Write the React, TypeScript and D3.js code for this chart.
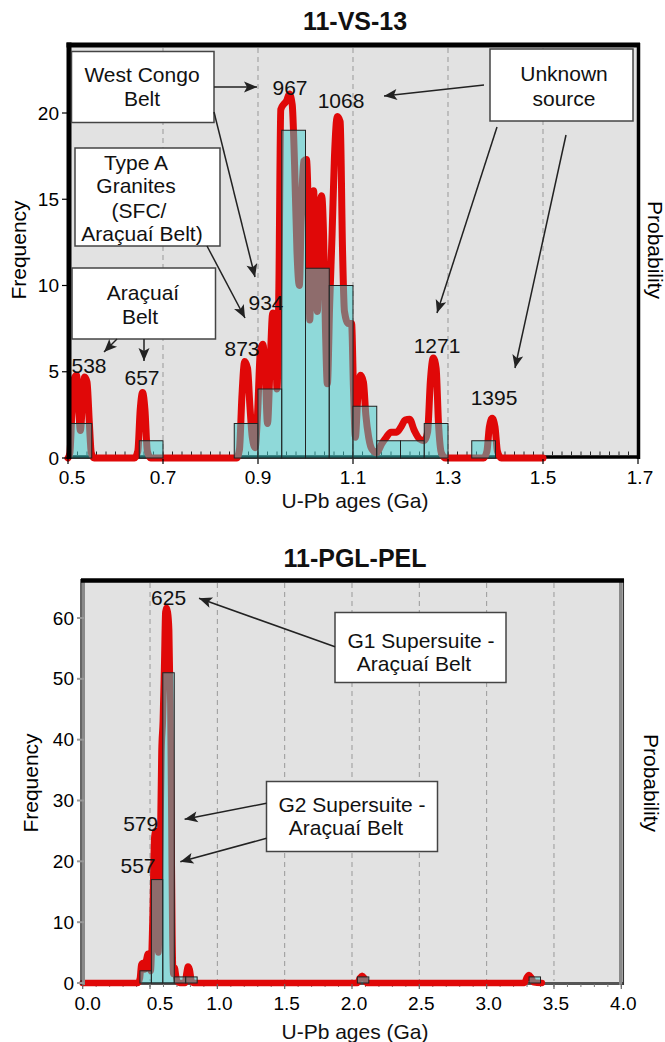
import React from 'react';
import * as d3 from 'd3';

// ---- 11-VS-13 ----
const vs13BinWidth = 0.05;
const vs13BinStart = [0.5, 0.65, 0.85, 0.9, 0.95, 1.0, 1.05, 1.1, 1.15, 1.2, 1.25, 1.35];
const vs13Counts = [2, 1, 2, 4, 19, 11, 10, 3, 1, 1, 2, 1];
// relative probability curve, scaled to frequency [age Ga, value]
const vs13Curve: [number, number][] = [
  [0.5, 0], [0.504, 0.3], [0.508, 2.5], [0.513, 4.6], [0.518, 4.8], [0.522, 3.2], [0.526, 1.6], [0.53, 3.0],
  [0.535, 4.7], [0.54, 4.4], [0.545, 2.0], [0.549, 0.3], [0.555, 0],
  [0.64, 0], [0.647, 0.4], [0.652, 2.8], [0.657, 3.8], [0.662, 2.8], [0.667, 0.4], [0.674, 0],
  [0.855, 0], [0.861, 0.5], [0.866, 3.5], [0.872, 5.6], [0.878, 5.2], [0.883, 3.0], [0.888, 1.2], [0.894, 0.6],
  [0.899, 2.5], [0.905, 6.2], [0.91, 6.6], [0.915, 5.2], [0.92, 2.0], [0.925, 5.0], [0.931, 8.4], [0.936, 8.2],
  [0.94, 4.0], [0.944, 10.0], [0.948, 20.2], [0.954, 20.5], [0.96, 20.7], [0.966, 21.1], [0.972, 20.5],
  [0.977, 17.0], [0.982, 12.0], [0.987, 10.0], [0.991, 14.0], [0.996, 17.2], [1.002, 17.3], [1.006, 14.0],
  [1.009, 8.0], [1.013, 13.5], [1.017, 15.5], [1.021, 12.0], [1.025, 8.5], [1.029, 13.5], [1.034, 15.2],
  [1.038, 13.0], [1.042, 7.5], [1.046, 4.3], [1.051, 9.0], [1.056, 13.0], [1.061, 17.5], [1.067, 19.8],
  [1.073, 19.5], [1.078, 12.0], [1.082, 8.5], [1.09, 7.8], [1.097, 7.8], [1.101, 4.0], [1.105, 1.2],
  [1.11, 3.5], [1.116, 4.8], [1.122, 4.4], [1.127, 2.5], [1.133, 1.2], [1.14, 0.5], [1.15, 0.3], [1.16, 0.8],
  [1.17, 1.2], [1.18, 1.5], [1.192, 1.5], [1.201, 1.8], [1.21, 2.2], [1.219, 2.25], [1.229, 1.6], [1.24, 1.1],
  [1.25, 1.0], [1.257, 1.5], [1.263, 4.5], [1.269, 5.8], [1.275, 5.2], [1.28, 2.0], [1.286, 0.3], [1.295, 0],
  [1.375, 0], [1.382, 0.4], [1.387, 1.8], [1.393, 2.3], [1.399, 1.8], [1.404, 0.4], [1.412, 0], [1.5, 0],
];
const vs13XTicks = [0.5, 0.7, 0.9, 1.1, 1.3, 1.5, 1.7];
const vs13YTicks = [0, 5, 10, 15, 20];

// ---- 11-PGL-PEL ----
const pelBinWidth = 0.085;
const pelBinStart = [0.425, 0.51, 0.595, 0.68, 0.765, 2.04, 3.315];
const pelCounts = [2, 17, 51, 1, 1, 1, 1];
const pelCurve: [number, number][] = [
  [0, 0], [0.41, 0], [0.425, 0.8], [0.435, 3.0], [0.447, 3.3], [0.46, 2.2], [0.472, 3.8], [0.485, 4.8],
  [0.497, 3.5], [0.505, 2.0], [0.518, 10], [0.532, 24], [0.542, 25], [0.552, 10], [0.562, 5], [0.575, 22],
  [0.585, 38], [0.595, 43], [0.605, 52], [0.614, 61], [0.622, 61.7], [0.632, 61], [0.642, 58], [0.651, 46],
  [0.659, 26], [0.666, 8], [0.673, 1.5], [0.683, 2.5], [0.693, 1.2], [0.705, 0.2], [0.72, 0],
  [0.76, 0], [0.77, 1.5], [0.782, 2.7], [0.795, 2.2], [0.808, 0.4], [0.825, 0],
  [2.04, 0], [2.058, 0.8], [2.075, 1.2], [2.092, 0.8], [2.11, 0],
  [3.28, 0], [3.298, 0.9], [3.315, 1.3], [3.332, 0.9], [3.35, 0.1], [3.41, 0],
];
const pelXTicks = [0, 0.5, 1.0, 1.5, 2.0, 2.5, 3.0, 3.5, 4.0];
const pelYTicks = [0, 10, 20, 30, 40, 50, 60];

const FONT = '"Liberation Sans", Arial, Helvetica, sans-serif';
const RED = '#e00808';
const BAR = 'rgba(59,207,207,0.5)';

function Arrow({ x1, y1, x2, y2 }: { x1: number; y1: number; x2: number; y2: number }) {
  return <line x1={x1} y1={y1} x2={x2} y2={y2} stroke="#222" strokeWidth={1.5} markerEnd="url(#ah)" />;
}

function Box({ x, y, w, h }: { x: number; y: number; w: number; h: number }) {
  return <rect x={x} y={y} width={w} height={h} fill="#fff" stroke="#444" strokeWidth={1.5} />;
}

function T({ x, y, s, size = 21, bold = false }: { x: number; y: number; s: string; size?: number; bold?: boolean }) {
  return (
    <text x={x} y={y} fontSize={size} fontWeight={bold ? 'bold' : 'normal'} textAnchor="middle"
      dominantBaseline="central" fill="#111">
      {s}
    </text>
  );
}

function TopChart() {
  const x = d3.scaleLinear().domain([0.5, 1.7]).range([68, 638]);
  const y = d3.scaleLinear().domain([0, 24]).range([458, 44]);
  const line = d3.line<[number, number]>().x(d => x(d[0])).y(d => y(d[1])).curve(d3.curveMonotoneX);
  const minor = d3.range(0.5, 1.7001, 0.02);
  return (
    <g>
      <T x={355} y={21} s="11-VS-13" size={25} bold />
      <rect x={69} y={45} width={569} height={412} fill="#e2e2e2" />
      {vs13XTicks.slice(1, -1).map(t => (
        <line key={t} x1={x(t)} x2={x(t)} y1={48} y2={455} stroke="#999" strokeDasharray="5,4" />
      ))}
      {minor.map((t, i) => (
        <line key={i} x1={x(t)} x2={x(t)} y1={455} y2={451.5} stroke="#222" strokeWidth={1} />
      ))}
      <line x1={67} x2={640} y1={457} y2={457} stroke="#000" strokeWidth={3.5} />
      <path d={line(vs13Curve) || ''} fill="none" stroke={RED} strokeWidth={7} strokeLinecap="round" strokeLinejoin="round" />
      {vs13BinStart.map((b, i) => (
        <rect key={b} x={x(b)} y={y(vs13Counts[i])} width={x(b + vs13BinWidth) - x(b)}
          height={y(0) - y(vs13Counts[i])} fill={BAR} stroke="#222" strokeWidth={1} />
      ))}
      <line x1={69} x2={69} y1={42.5} y2={459} stroke="#000" strokeWidth={5} />
      <line x1={66.5} x2={640} y1={45} y2={45} stroke="#000" strokeWidth={5} />
      <line x1={638.5} x2={638.5} y1={43} y2={459} stroke="#000" strokeWidth={3.5} />
      {vs13YTicks.map(t => (
        <g key={t}>
          <line x1={62} x2={67} y1={y(t)} y2={y(t)} stroke="#000" strokeWidth={1.2} />
          <text x={59} y={y(t)} fontSize={19} textAnchor="end" dominantBaseline="central">{t}</text>
        </g>
      ))}
      {vs13XTicks.map(t => (
        <g key={t}>
          <line x1={x(t)} x2={x(t)} y1={459} y2={464} stroke="#000" strokeWidth={1.2} />
          <text x={x(t) + (t === 0.5 ? 4 : t === 1.7 ? 2 : 0)} y={477} fontSize={19} textAnchor="middle" dominantBaseline="central">
            {t.toFixed(1)}
          </text>
        </g>
      ))}
      <T x={355} y={500} s="U-Pb ages (Ga)" />
      <text transform="translate(18,250) rotate(-90)" fontSize={21} textAnchor="middle" dominantBaseline="central">Frequency</text>
      <text transform="translate(655,250) rotate(90)" fontSize={21} textAnchor="middle" dominantBaseline="central">Probability</text>

      {/* annotations */}
      <Box x={71.5} y={51.5} w={142.5} h={71} />
      <T x={142} y={74} s="West Congo" />
      <T x={142} y={98} s="Belt" />
      <Box x={490} y={49} w={143} h={72} />
      <T x={564} y={73} s="Unknown" />
      <T x={564} y={98} s="source" />
      <Box x={75} y={148} w={145} h={98} />
      <T x={136} y={162} s="Type A" />
      <T x={136} y={185} s="Granites" />
      <T x={139} y={210} s="(SFC/" />
      <T x={142} y={233} s="Araçuaí Belt)" />
      <Box x={72} y={268} w={143.5} h={71} />
      <T x={143} y={292} s="Araçuaí" />
      <T x={140} y={316} s="Belt" />
      <Arrow x1={214} y1={87} x2={257} y2={87} />
      <Arrow x1={214} y1={112} x2={255} y2={277} />
      <Arrow x1={207} y1={246} x2={245} y2={318} />
      <Arrow x1={117} y1={339} x2={104} y2={352} />
      <Arrow x1={144} y1={339} x2={144} y2={361} />
      <Arrow x1={484} y1={85} x2={384} y2={96} />
      <Arrow x1={497} y1={127} x2={437} y2={313} />
      <Arrow x1={566} y1={135} x2={515} y2={368} />
      <T x={290} y={87} s="967" />
      <T x={341} y={100} s="1068" />
      <T x={266} y={302} s="934" />
      <T x={242} y={348} s="873" />
      <T x={89} y={365} s="538" />
      <T x={142} y={377} s="657" />
      <T x={437} y={345} s="1271" />
      <T x={494} y={397} s="1395" />
    </g>
  );
}

function BottomChart() {
  const x = d3.scaleLinear().domain([0, 4]).range([82.7, 621.3]);
  const y = d3.scaleLinear().domain([0, 66]).range([983, 581.5]);
  const line = d3.line<[number, number]>().x(d => x(d[0])).y(d => y(d[1])).curve(d3.curveMonotoneX);
  const minor = d3.range(0, 4.0001, 0.1);
  return (
    <g>
      <T x={355} y={558} s="11-PGL-PEL" size={25} bold />
      <rect x={83} y={581} width={538} height={402} fill="#e2e2e2" />
      {pelXTicks.slice(1, -1).map(t => (
        <line key={t} x1={x(t)} x2={x(t)} y1={583} y2={981} stroke="#999" strokeDasharray="5,4" />
      ))}
      <line x1={82} x2={623} y1={983.5} y2={983.5} stroke="#555" strokeWidth={3} />
      {minor.map((t, i) => (
        <line key={i} x1={x(t)} x2={x(t)} y1={984} y2={987} stroke="#777" strokeWidth={1} />
      ))}
      <path d={line(pelCurve) || ''} fill="none" stroke={RED} strokeWidth={6.5} strokeLinecap="round" strokeLinejoin="round" />
      {pelBinStart.map((b, i) => (
        <rect key={b} x={x(b)} y={y(pelCounts[i])} width={x(b + pelBinWidth) - x(b)}
          height={y(0) - y(pelCounts[i])} fill={BAR} stroke="#222" strokeWidth={1} />
      ))}
      <line x1={81} x2={81} y1={579} y2={985} stroke="#333" strokeWidth={1.5} />
      <line x1={83.5} x2={83.5} y1={579} y2={985} stroke="#8a8a8a" strokeWidth={3} />
      <line x1={620.5} x2={620.5} y1={579} y2={985} stroke="#8a8a8a" strokeWidth={3} />
      <line x1={623.3} x2={623.3} y1={579} y2={985} stroke="#333" strokeWidth={1.5} />
      <line x1={81} x2={624} y1={580.5} y2={580.5} stroke="#000" strokeWidth={4.5} />
      {pelYTicks.map(t => (
        <g key={t}>
          <line x1={77} x2={84} y1={y(t)} y2={y(t)} stroke="#999" strokeWidth={2} />
          <text x={74} y={y(t)} fontSize={19} textAnchor="end" dominantBaseline="central">{t}</text>
        </g>
      ))}
      {pelXTicks.map(t => (
        <g key={t}>
          <line x1={x(t)} x2={x(t)} y1={984} y2={989} stroke="#666" strokeWidth={1.2} />
          <text x={x(t) + (t === 0 ? 5 : t === 0.5 ? 10 : 2)} y={1003} fontSize={19} textAnchor="middle" dominantBaseline="central">
            {t.toFixed(1)}
          </text>
        </g>
      ))}
      <T x={355} y={1031} s="U-Pb ages (Ga)" />
      <text transform="translate(30,783) rotate(-90)" fontSize={21} textAnchor="middle" dominantBaseline="central">Frequency</text>
      <text transform="translate(651,783) rotate(90)" fontSize={21} textAnchor="middle" dominantBaseline="central">Probability</text>

      <Box x={335} y={612.5} w={171} h={70} />
      <T x={421} y={640} s="G1 Supersuite -" />
      <T x={414} y={663} s="Araçuaí Belt" />
      <Box x={266.5} y={781.5} w={171} h={70} />
      <T x={352} y={804} s="G2 Supersuite -" />
      <T x={346} y={827} s="Araçuaí Belt" />
      <Arrow x1={335} y1={646.7} x2={199} y2={598.3} />
      <Arrow x1={266.5} y1={803.3} x2={184.6} y2={819.3} />
      <Arrow x1={266.5} y1={838.3} x2={180.3} y2={861.7} />
      <T x={168.6} y={597} s="625" />
      <T x={140.7} y={823} s="579" />
      <T x={138} y={865} s="557" />
    </g>
  );
}

export default function App() {
  return (
    <svg width={665} height={1042} style={{ position: 'absolute', left: 0, top: 0, background: '#fff' }}
      fontFamily={FONT}>
      <defs>
        <marker id="ah" viewBox="-14 -6 16 12" refX={0} refY={0} markerWidth={16} markerHeight={12}
          markerUnits="userSpaceOnUse" orient="auto">
          <path d="M0,0 L-13,-5.5 L-10,0 L-13,5.5 Z" fill="#222" />
        </marker>
      </defs>
      <TopChart />
      <BottomChart />
    </svg>
  );
}
